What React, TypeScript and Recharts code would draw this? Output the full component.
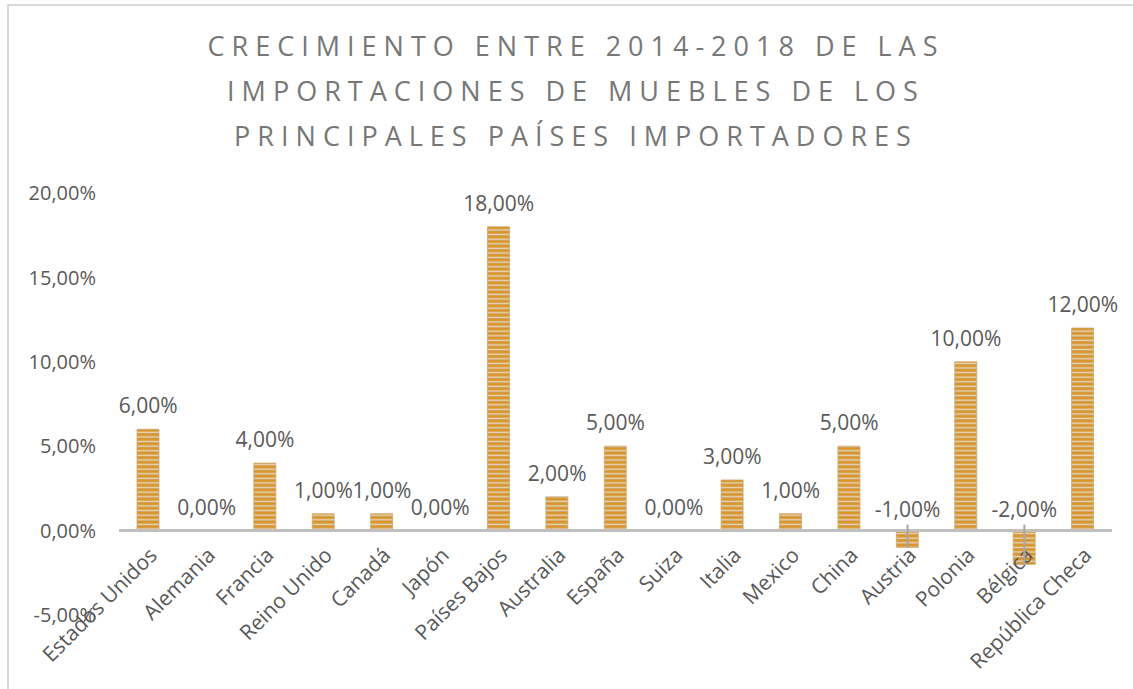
import { ComposedChart, Bar, Line, XAxis, YAxis, ReferenceLine, LabelList } from "recharts";

const countries = [
  "Estados Unidos", "Alemania", "Francia", "Reino Unido", "Canadá", "Japón", "Países Bajos",
  "Australia", "España", "Suiza", "Italia", "Mexico", "China", "Austria", "Polonia", "Bélgica",
  "República Checa",
];
const growth = [6, 0, 4, 1, 1, 0, 18, 2, 5, 0, 3, 1, 5, -1, 10, -2, 12];
const yTicks = [-5, 0, 5, 10, 15, 20];
const titleLines = [
  "CRECIMIENTO ENTRE 2014-2018 DE LAS",
  "IMPORTACIONES DE MUEBLES DE LOS",
  "PRINCIPALES PAÍSES IMPORTADORES",
];

const data = countries.map((country, i) => ({ country, growth: growth[i] }));

const FONT = "'Open Sans', 'Noto Sans', sans-serif";
const TEXT = "#595959";
const CHART_W = 1124;
const CHART_H = 680;
const M = { top: 187, right: 21, bottom: 0, left: 10 };
const X_AXIS_H = 71;
const PLOT_H = CHART_H - M.top - M.bottom - X_AXIS_H;
// distance from bottom of plot up to the zero line
const ZERO_OFFSET = (PLOT_H * (0 - yTicks[0])) / (yTicks[yTicks.length - 1] - yTicks[0]);
const ZERO_Y = M.top + PLOT_H - ZERO_OFFSET;

const fmt = (v: number) => `${v.toFixed(2).replace(".", ",")}%`;

function CountryTick(props: any) {
  const { x, y, payload } = props;
  const ty = y - ZERO_OFFSET + 18;
  return (
    <text
      x={x + 10}
      y={ty}
      transform={`rotate(-45, ${x + 10}, ${ty})`}
      textAnchor="end"
      fill={TEXT}
      fontSize={21}
      fontFamily={FONT}
    >
      {payload.value}
    </text>
  );
}

// labels sit above the bar top, or above the zero line for zero / negative bars
function ValueLabel(props: any) {
  const { x, y, value } = props;
  const neg = value < 0;
  const top = Math.min(y, ZERO_Y);
  const ly = neg ? top - 14 : top - 16;
  return (
    <g>
      {neg && <line x1={x} x2={x} y1={ly + 8} y2={y} stroke="#A6A6A6" strokeWidth={2} />}
      <text x={x} y={ly} textAnchor="middle" fill={TEXT} fontSize={21} fontFamily={FONT}>
        {fmt(value)}
      </text>
    </g>
  );
}

export default function App() {
  return (
    <div style={{ position: "fixed", inset: 0, overflow: "hidden", background: "#fff" }}>
      <svg width={0} height={0} style={{ position: "absolute" }}>
        <defs>
          <pattern id="stripes" width={8} height={4.6} patternUnits="userSpaceOnUse">
            <rect width={8} height={4.6} fill="#D8952A" />
            <rect y={2.4} width={8} height={1.6} fill="#E8D3B4" />
            <rect y={4} width={8} height={0.6} fill="#C9A36C" />
          </pattern>
        </defs>
      </svg>
      <div
        style={{
          position: "absolute",
          left: 7,
          top: 4,
          width: 1150,
          height: 720,
          border: "2px solid #D9D9D9",
          fontFamily: FONT,
        }}
      >
        <div
          style={{
            position: "absolute",
            top: 17,
            left: 0,
            width: 1134,
            textAlign: "center",
            color: "#777777",
            fontSize: 27,
            letterSpacing: 7,
            lineHeight: "45px",
          }}
        >
          {titleLines.map((t) => (
            <div key={t}>{t}</div>
          ))}
        </div>
        <ComposedChart width={CHART_W} height={CHART_H} data={data} margin={M}>
          <XAxis
            dataKey="country"
            height={X_AXIS_H}
            axisLine={false}
            tickLine={false}
            interval={0}
            tick={<CountryTick />}
          />
          <YAxis
            width={100}
            domain={[yTicks[0], yTicks[yTicks.length - 1]]}
            ticks={yTicks}
            axisLine={false}
            tickLine={false}
            tickSize={0}
            tickMargin={23}
            tickFormatter={fmt}
            tick={{ fill: TEXT, fontSize: 20, fontFamily: FONT }}
          />
          <ReferenceLine y={0} stroke="#BFBFBF" strokeWidth={3} />
          <Bar
            dataKey="growth"
            barSize={22}
            fill="url(#stripes)"
            stroke="#CBA772"
            strokeWidth={0.8}
            isAnimationActive={false}
          />
          <Line
            dataKey="growth"
            stroke="none"
            dot={false}
            activeDot={false}
            legendType="none"
            isAnimationActive={false}
          >
            <LabelList dataKey="growth" content={<ValueLabel />} />
          </Line>
        </ComposedChart>
      </div>
    </div>
  );
}
